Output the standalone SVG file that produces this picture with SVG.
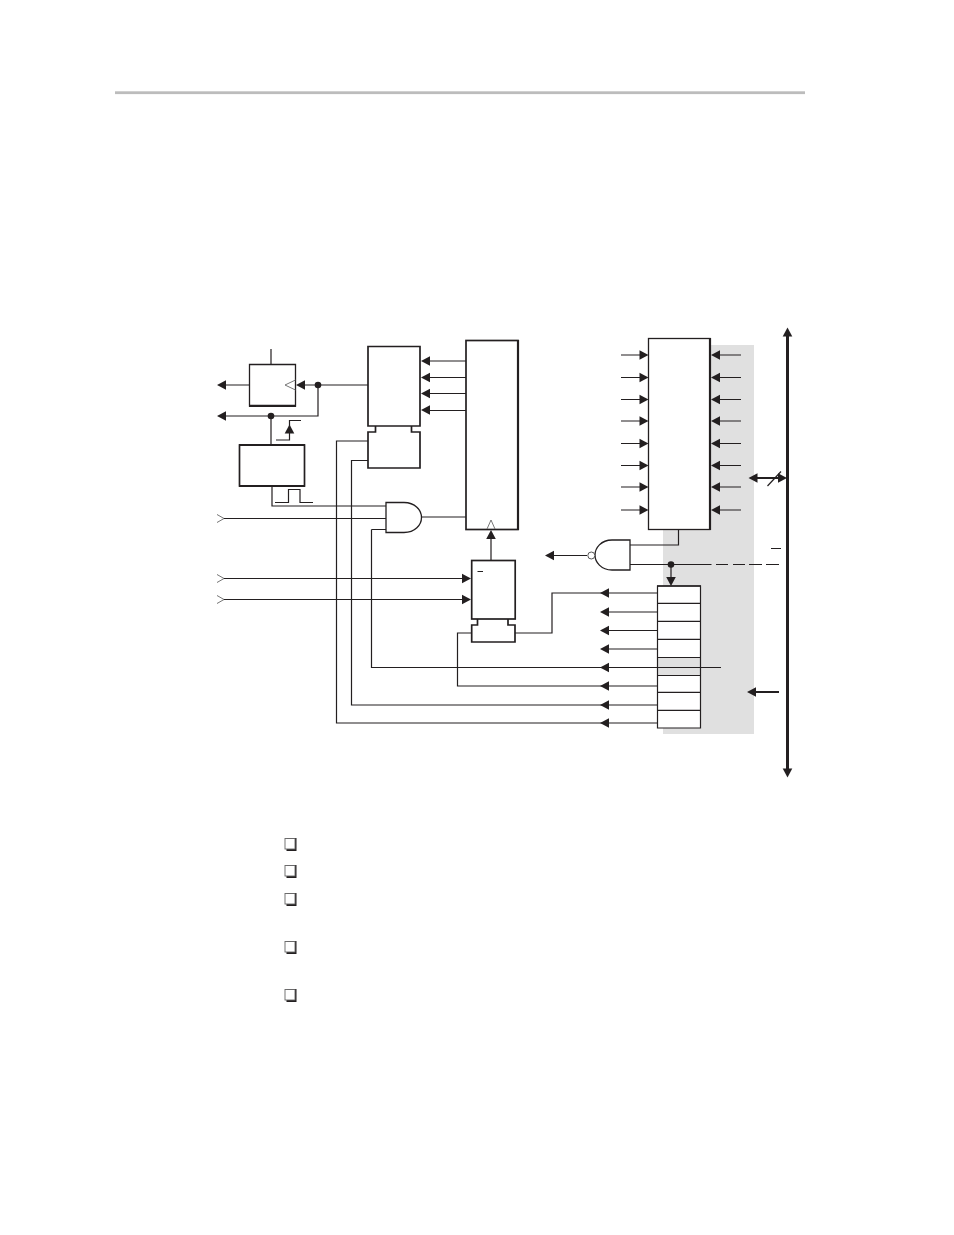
<svg xmlns="http://www.w3.org/2000/svg" width="954" height="1235" viewBox="0 0 954 1235">
<style>
.w{fill:none;stroke:#231f20;stroke-width:1.2}
.b{fill:#fff;stroke:#231f20;stroke-width:1.3}
.t{fill:#fff;stroke:#231f20;stroke-width:1.7}
.k{fill:none;stroke:#231f20;stroke-width:2.2}
.h{fill:#231f20;stroke:none}
.c{fill:none;stroke:#666;stroke-width:.9}
.cb{fill:#fff;stroke:#666;stroke-width:.9}
</style>
<defs>
<path id="al" class="h" d="M0 0L9 -4.800L9 4.800Z"/>
<path id="ar" class="h" d="M0 0L-9 -4.800L-9 4.800Z"/>
<path id="ad" class="h" d="M0 0L-4.800 -9L4.800 -9Z"/>
<path id="au" class="h" d="M0 0L-4.800 9L4.800 9Z"/>
<circle id="dot" class="h" r="3.300"/>
<g id="check"><path class="h" d="M12 0H2V1.500H10V11H2V13H12Z"/><rect class="cb" x="0.500" y="0.500" width="10" height="10.500"/></g>
</defs>
<rect id="top-rule" x="115" y="91.300" width="690" height="2.800" fill="#bcbcbc"/>
<rect id="shade" x="663" y="345" width="91" height="389" fill="#e0e0e0"/>
<g id="connectors">
<path class="w" d="M271 349V364.500M249 385H222M303 385H368M318 385V416H222M271 416V445M276 440H289.500V420.500H301M272 486V506H386M275 502.500H288.500V489.500H300V502.500H313M224 518.500H386M421 517H466M371.500 529.500H386M371.500 529.500V667.500H721M368 441H336.500V723H657.500M368 460.500H351.500V705H657.500M466 361H428M466 377.500H428M466 393.500H428M466 410.500H428M491 538V560.500"/>
<path class="w" d="M224 578.500H464M224 599.500H464M515 633H552V593H657.500M471.700 633H457.500V686H657.500M608 612H657.500M608 630.500H657.500M608 649H657.500"/>
<path class="w" d="M621 355H641M621 377.500H641M621 399.500H641M621 421H641M621 443.500H641M621 465.500H641M621 487H641M621 510H641M741 355H719M741 377.500H719M741 399.500H719M741 421H719M741 443.500H719M741 465.500H719M741 487H719M741 510H719"/>
<path class="w" d="M630 545H678.500V529.500M630 564.500H711.500M671 564.500V579M553 555.500H587M771 548.500H781M716 564.500H728M733 564.500H745M749 564.500H762M766 564.500H779"/>
<path d="M787.500 335V770" fill="none" stroke="#231f20" stroke-width="3"/>
<path d="M757 478H780M754 692H779" fill="none" stroke="#231f20" stroke-width="2"/>
<path class="w" d="M767.500 486L781 471.500" stroke-width="0.900"/>
<use href="#al" x="217" y="385"/><use href="#al" x="217" y="416"/><use href="#al" x="296" y="385"/>
<use href="#dot" x="318" y="385"/><use href="#dot" x="271" y="416"/><use href="#au" x="289.500" y="424.500"/>
<use href="#al" x="421" y="361"/><use href="#al" x="421" y="377.500"/><use href="#al" x="421" y="393.500"/><use href="#al" x="421" y="410"/>
<use href="#au" x="491" y="530"/>
<use href="#ar" x="471" y="578.500"/><use href="#ar" x="471" y="599.500"/>
<use href="#al" x="600" y="593"/><use href="#al" x="600" y="612"/><use href="#al" x="600" y="630.500"/><use href="#al" x="600" y="649"/><use href="#al" x="600" y="667.500"/><use href="#al" x="600" y="686"/><use href="#al" x="600" y="705"/><use href="#al" x="600" y="723"/>
<use href="#ar" x="648.500" y="355"/><use href="#ar" x="648.500" y="377.500"/><use href="#ar" x="648.500" y="399.500"/><use href="#ar" x="648.500" y="421"/><use href="#ar" x="648.500" y="443.500"/><use href="#ar" x="648.500" y="465.500"/><use href="#ar" x="648.500" y="487"/><use href="#ar" x="648.500" y="510"/>
<use href="#al" x="711" y="355"/><use href="#al" x="711" y="377.500"/><use href="#al" x="711" y="399.500"/><use href="#al" x="711" y="421"/><use href="#al" x="711" y="443.500"/><use href="#al" x="711" y="465.500"/><use href="#al" x="711" y="487"/><use href="#al" x="711" y="510"/>
<use href="#al" x="545" y="555.500"/><use href="#dot" x="671" y="564.500"/><use href="#ad" x="671" y="586"/>
<use href="#al" x="748.500" y="478"/><use href="#ar" x="787" y="478"/><use href="#al" x="747" y="692"/>
<use href="#au" x="787.500" y="327.500"/><use href="#ad" x="787.500" y="777.500"/>
<path class="c" d="M217 514.500L224 518.500L217 522.500M217 574.500L224 578.500L217 582.500M217 595.500L224 599.500L217 603.500"/>
</g>
<g id="counter-box"><path class="b" d="M249.500 364.500H295.500V406H249.500Z"/><path class="k" d="M249 405.800H296"/><path class="c" d="M295.500 380L285 385L295.500 390"/></g>
<g id="timer-box"><rect class="t" x="239.500" y="445" width="65" height="41"/><path class="k" d="M239 445H305M239 486H305"/></g>
<g id="register-lower"><path class="t" d="M375.500 426V432H368V468H420V432H411.500V426"/></g>
<g id="register-upper"><path class="t" d="M368 346.500H420V426H368Z"/></g>
<g id="main-box"><rect class="t" x="466" y="340.500" width="52" height="189"/><path class="k" d="M518 340V530"/><path class="c" d="M487 529L491 520L495 529"/></g>
<g id="and-gate"><path class="b" d="M386 502.500H404C415 502.500 421.500 510 421.500 517.500C421.500 525 415 532.500 404 532.500H386Z"/></g>
<g id="control-lower"><path class="t" d="M477.500 619V625H471.700V642H515V625H508V619"/></g>
<g id="control-upper"><rect class="t" x="471.700" y="560.500" width="43.500" height="58.500"/><path d="M477.500 571.500H483" fill="none" stroke="#231f20" stroke-width="1"/></g>
<g id="status-box"><rect class="b" x="648.500" y="338.500" width="61.500" height="191"/><path class="k" d="M710 338V530"/></g>
<g id="nand-gate"><path class="b" d="M630 540H612C601 540 595 548 595 555C595 562 601 570 612 570H630Z"/><circle cx="591.300" cy="555.500" r="3.500" fill="#fff" stroke="#444" stroke-width=".9"/></g>
<g id="bit-register">
<rect x="657.500" y="586" width="43" height="142" fill="#fff"/>
<rect x="657.500" y="657.500" width="43" height="18" fill="#e0e0e0"/>
<path class="w" d="M657.500 586H700.500V728H657.500ZM657.500 603.300H700.500M657.500 621.300H700.500M657.500 639.300H700.500M657.500 657.500H700.500M657.500 675.500H700.500M657.500 692.300H700.500M657.500 710.300H700.500"/>
<path d="M657 586H701" fill="none" stroke="#231f20" stroke-width="1.700"/>
<path class="w" d="M657.500 667.500H721"/>
</g>
<g id="checkboxes">
<use href="#check" x="284.500" y="838"/><use href="#check" x="284.500" y="865"/><use href="#check" x="284.500" y="893"/><use href="#check" x="284.500" y="941"/><use href="#check" x="284.500" y="989"/>
</g>
</svg>
